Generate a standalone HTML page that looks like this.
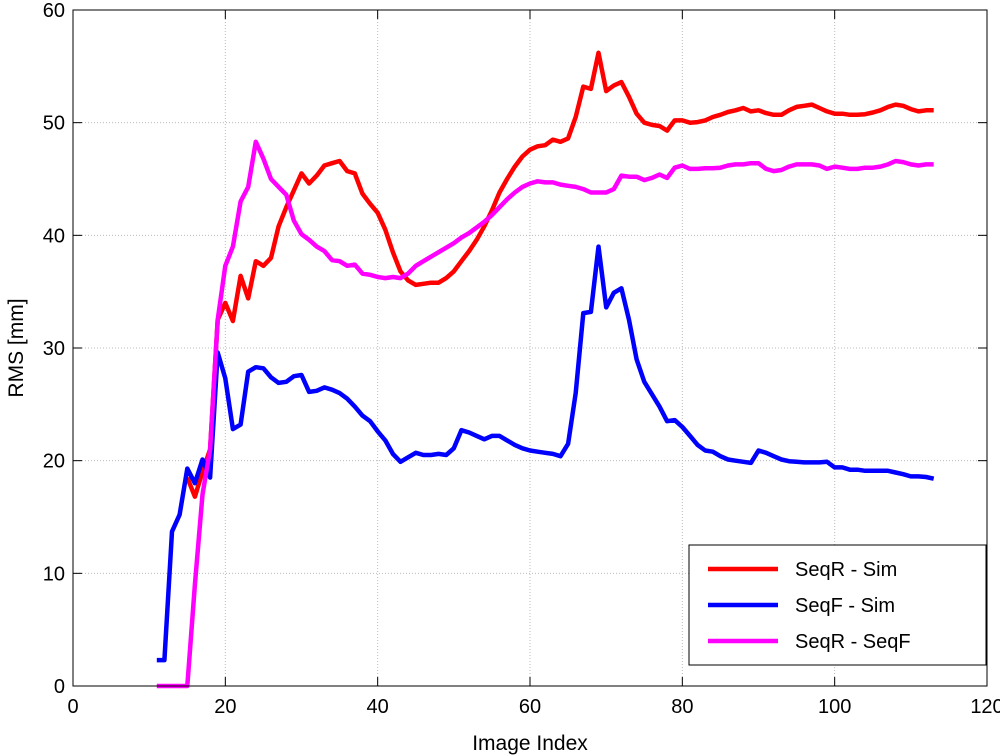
<!DOCTYPE html>
<html><head><meta charset="utf-8"><style>
body{margin:0;background:#fff;}
svg{display:block;font-family:"Liberation Sans",Arial,sans-serif;}
</style></head><body>
<svg id="chart" width="1000" height="756">
<rect x="0" y="0" width="1000" height="756" fill="#fff"/>
<g id="grid"></g><g id="series"></g><g id="axes"></g>
</svg>
<script>
const xTicks=[0,20,40,60,80,100,120];
const yTicks=[0,10,20,30,40,50,60];
const seqFX=[];for(let i=11;i<=113;i++)seqFX.push(i);
const seqFSim=[2.3,2.3,13.7,15.2,19.3,18,20.1,18.5,29.6,27.3,22.8,23.2,27.9,28.3,28.2,27.4,26.9,27,27.5,27.6,26.1,26.2,26.5,26.3,26.0,25.5,24.8,24.0,23.5,22.6,21.8,20.6,19.9,20.3,20.7,20.5,20.5,20.6,20.5,21.1,22.7,22.5,22.2,21.9,22.2,22.2,21.8,21.4,21.1,20.9,20.8,20.7,20.6,20.4,21.5,26,33.1,33.2,39,33.6,34.9,35.3,32.5,29,27,25.9,24.8,23.5,23.6,23,22.2,21.4,20.9,20.8,20.4,20.1,20.0,19.9,19.8,20.9,20.7,20.4,20.1,19.95,19.9,19.85,19.85,19.85,19.9,19.4,19.4,19.2,19.2,19.1,19.1,19.1,19.1,18.95,18.8,18.6,18.6,18.55,18.4];
const seqRX=[];for(let i=15;i<=113;i++)seqRX.push(i);
const seqRSim=[18.5,16.8,19,21,32.5,34,32.4,36.4,34.4,37.7,37.3,38,40.8,42.5,44,45.5,44.6,45.3,46.2,46.4,46.6,45.7,45.5,43.7,42.8,42,40.5,38.5,36.8,36,35.6,35.7,35.8,35.8,36.2,36.8,37.7,38.6,39.6,40.8,42.2,43.8,45,46.1,47,47.6,47.9,48,48.5,48.3,48.6,50.5,53.2,53,56.2,52.8,53.3,53.6,52.3,50.8,50,49.8,49.7,49.3,50.2,50.2,50.0,50.05,50.2,50.5,50.7,50.95,51.1,51.3,51.0,51.1,50.85,50.7,50.7,51.1,51.4,51.5,51.6,51.3,51.0,50.8,50.8,50.7,50.7,50.75,50.9,51.1,51.4,51.6,51.5,51.2,51.0,51.1,51.1];
const seqRF=[0,0,0,0,0,9,17,21,32.5,37.3,39,43,44.3,48.3,46.8,45,44.3,43.6,41.3,40.1,39.6,39,38.6,37.8,37.7,37.3,37.4,36.6,36.5,36.3,36.2,36.3,36.2,36.6,37.3,37.7,38.1,38.5,38.9,39.3,39.8,40.2,40.7,41.2,41.8,42.5,43.2,43.8,44.3,44.6,44.8,44.7,44.7,44.5,44.4,44.3,44.1,43.8,43.8,43.8,44.1,45.3,45.2,45.2,44.9,45.1,45.4,45.1,46.0,46.2,45.9,45.9,45.95,45.95,46.0,46.2,46.3,46.3,46.4,46.4,45.9,45.7,45.8,46.1,46.3,46.3,46.3,46.2,45.9,46.1,46.0,45.9,45.9,46.0,46.0,46.1,46.3,46.6,46.5,46.3,46.2,46.3,46.3];
const L=73,R=987,T=10,B=686;
const sx=v=>L+(v-0)/(120-0)*(R-L);
const sy=v=>B-(v-0)/(60-0)*(B-T);
const NS='http://www.w3.org/2000/svg';
function mk(tag,attrs,parent,text){const e=document.createElementNS(NS,tag);for(const k in attrs)e.setAttribute(k,attrs[k]);if(text!==undefined)e.textContent=text;parent.appendChild(e);return e;}
const grid=document.getElementById('grid'),axes=document.getElementById('axes'),ser=document.getElementById('series');
xTicks.forEach(t=>{
 const g=mk('line',{x1:sx(t),x2:sx(t),y1:T,y2:B,stroke:'#bbb','stroke-dasharray':'1,2','stroke-width':1},grid);
 
 
 mk('line',{x1:sx(t),x2:sx(t),y1:B,y2:B-9,stroke:'#000'},axes);
 mk('line',{x1:sx(t),x2:sx(t),y1:T,y2:T+9,stroke:'#000'},axes);
 const lb=mk('text',{x:sx(t),y:B+27,'text-anchor':'middle','font-size':20},axes,String(t));
 
 
});
yTicks.forEach(t=>{
 const g=mk('line',{x1:L,x2:R,y1:sy(t),y2:sy(t),stroke:'#bbb','stroke-dasharray':'1,2','stroke-width':1},grid);
 
 
 mk('line',{x1:L,x2:L+9,y1:sy(t),y2:sy(t),stroke:'#000'},axes);
 mk('line',{x1:R,x2:R-9,y1:sy(t),y2:sy(t),stroke:'#000'},axes);
 const lb=mk('text',{x:L-8,y:sy(t)+7,'text-anchor':'end','font-size':20},axes,String(t));
 
 
});
const frame=mk('rect',{x:L,y:T,width:R-L,height:B-T,fill:'none',stroke:'#000','stroke-width':1},axes);


const xt=mk('text',{x:(L+R)/2,y:750,'text-anchor':'middle','font-size':21},axes,'Image Index');


const yt=mk('text',{x:0,y:0,'text-anchor':'middle','font-size':21,transform:'translate(23,348) rotate(-90)'},axes,'RMS [mm]');


function line(xs,ys,color,name){
 const d=xs.map((x,i)=>(i?'L':'M')+sx(x).toFixed(1)+','+sy(ys[i]).toFixed(1)).join('');
 const p=mk('path',{d:d,fill:'none',stroke:color,'stroke-width':4.5,'stroke-linejoin':'round'},ser);
 
 
}
line(seqRX,seqRSim,'#ff0000','line-seqr-sim');
line(seqFX,seqFSim,'#0000ff','line-seqf-sim');
line(seqFX,seqRF,'#ff00ff','line-seqr-seqf');
// legend
const lg=mk('g',{},axes);


mk('rect',{x:689,y:545,width:297,height:120,fill:'#fff',stroke:'#000'},lg);
[['SeqR - Sim','#ff0000',569],['SeqF - Sim','#0000ff',605],['SeqR - SeqF','#ff00ff',641]].forEach(e=>{
 const en=mk('g',{},lg);
 
 
 mk('line',{x1:708,x2:778,y1:e[2],y2:e[2],stroke:e[1],'stroke-width':4.5},en);
 mk('text',{x:795,y:e[2]+7,'font-size':20},en,e[0]);
});
</script>
</body></html>
